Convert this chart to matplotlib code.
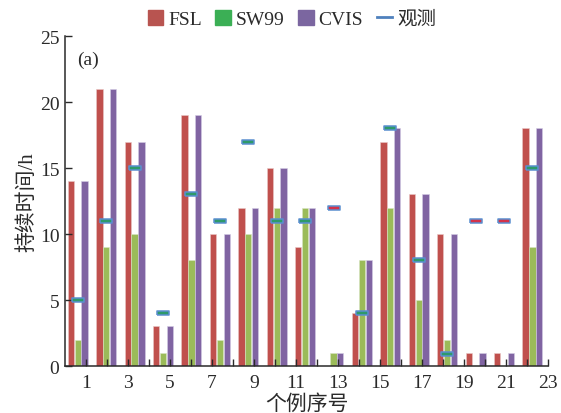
import matplotlib.pyplot as plt
from matplotlib.patches import Patch
from matplotlib.lines import Line2D

plt.rcParams['font.family'] = ['Liberation Serif', 'Noto Sans CJK SC']

# case data (17 cases drawn on an axis labelled 1..23)
fsl = [14, 21, 17, 3, 19, 10, 12, 15, 9, 0, 4, 17, 13, 10, 1, 1, 18]
sw99 = [2, 9, 10, 1, 8, 2, 10, 12, 12, 1, 8, 12, 5, 2, 0, 0, 9]
cvis = [14, 21, 17, 3, 19, 10, 12, 15, 12, 1, 8, 18, 13, 10, 1, 1, 18]
obs = [5, 11, 15, 4, 13, 11, 17, 11, 11, 12, 4, 18, 8, 0.9, 11, 11, 15]
obs_core = ['g', 'g', 'g', 'g', 'g', 'g', 'g', 'g', 'g', 'r',
            'g', 'g', 'g', 'g', 'r', 'r', 'g']
tick_pos = list(range(1, 24))
tick_labels = [str(t) if t % 2 else '' for t in tick_pos]

red = '#C0504D'
green = '#9BBB59'
purple = '#8064A2'
blue = '#4F81BD'
ink = '#2A2A2A'

fig = plt.figure(figsize=(5.61, 4.14), dpi=100)
ax = fig.add_axes([0.1159, 0.1135, 0.861, 0.797])

n = len(fsl)
step = 23 / n
centers = [(i + 0.45) * step for i in range(n)]
w = 0.30
gap = 0.325

ax.bar([c - gap for c in centers], fsl, w, color=red, edgecolor='#E8C8C8', linewidth=0.4)
ax.bar(centers, sw99, w, color=green, edgecolor='#D8E4C4', linewidth=0.4)
ax.bar([c + gap for c in centers], cvis, w, color=purple, edgecolor='#D4CCE4', linewidth=0.4)

# observation dashes: blue rim with a coloured core
dash = [(-1, -0.3), (1, -0.3), (1, 0.3), (-1, 0.3), (-1, -0.3)]
core_colors = {'g': '#2E9A6A', 'r': '#D3324A'}
for c, v, k in zip(centers, obs, obs_core):
    ax.plot([c], [v], marker=dash, markersize=8.5, mfc=core_colors[k],
            mec='#5B8FD0', mew=1.1, linestyle='none', zorder=5)

ax.set_xlim(0, 23)
ax.set_ylim(0, 25)
ax.set_xticks(tick_pos)
ax.set_xticklabels(tick_labels)
ax.set_yticks([0, 5, 10, 15, 20, 25])
ax.tick_params(axis='both', direction='in', length=5, width=1, labelsize=14,
               colors=ink)
ax.tick_params(axis='x', pad=6)
ax.tick_params(axis='y', pad=4)
for s in ['top', 'right']:
    ax.spines[s].set_visible(False)
for s in ['left', 'bottom']:
    ax.spines[s].set_linewidth(1.1)
    ax.spines[s].set_color(ink)

ax.set_xlabel('个例序号', fontsize=15, labelpad=2, color=ink)
ax.set_ylabel('持续时间/h', fontsize=15, labelpad=2, color=ink)
ax.text(0.025, 0.955, '(a)', transform=ax.transAxes, fontsize=14,
        va='top', ha='left', color=ink)

handles = [Patch(color='#B85450'), Patch(color='#3BAF55'),
           Patch(color='#7B66A0'), Line2D([0], [0], color=blue, lw=2)]
leg = fig.legend(handles, ['FSL', 'SW99', 'CVIS', '观测'], loc='center',
                 bbox_to_anchor=(292 / 561, 1 - 20 / 414), ncol=4, frameon=False,
                 fontsize=14, handlelength=0.8, handleheight=0.8,
                 handletextpad=0.25, columnspacing=0.7, borderaxespad=0)
for t in leg.get_texts():
    t.set_color(ink)

fig.savefig('out.png', dpi=100)
